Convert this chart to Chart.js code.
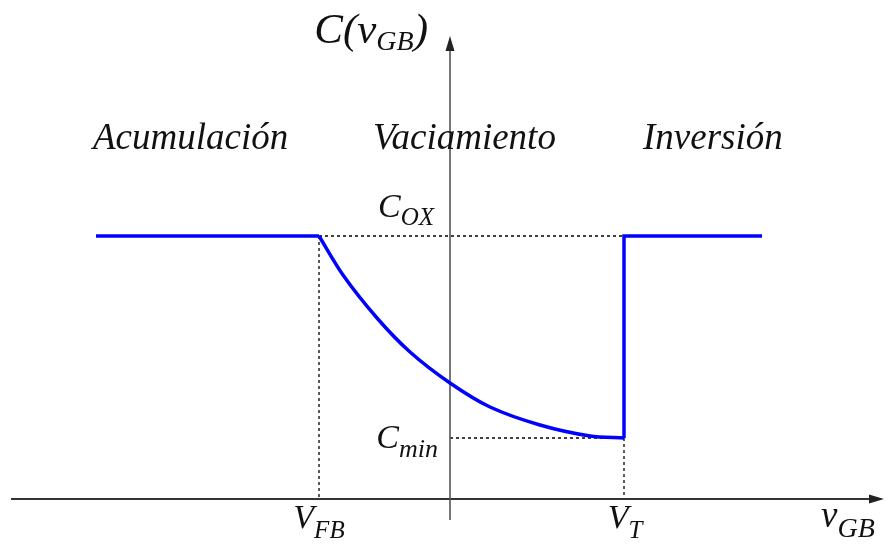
<!DOCTYPE html>
<html>
<head>
<meta charset="utf-8">
<script src="https://cdn.jsdelivr.net/npm/chart.js@4.4.0/dist/chart.umd.min.js"></script>
<style>
  html, body { margin: 0; padding: 0; background: #fff; }
  #wrap { width: 891px; height: 546px; }
</style>
</head>
<body>
<div id="wrap"><canvas id="chart"></canvas></div>
<script>
// characteristic voltages and capacitance levels (1 unit = 100 px)
const vFB = -1.31;
const vT = 1.74;
const cOx = 2.63;
const cMin = 0.61;

// accumulation: flat at Cox up to the flat-band voltage
const accX = [-3.54, vFB];
const accY = [cOx, cOx];

// depletion: C falls from Cox to Cmin between VFB and VT
const depX = [vFB, -1.07, -0.73, -0.40, 0.00, 0.40, 0.90, 1.40, vT];
const depY = [cOx, 2.24, 1.81, 1.47, 1.16, 0.92, 0.74, 0.63, cMin];

// inversion (low frequency): jumps back to Cox at VT
const invX = [vT, vT, 3.12];
const invY = [cMin, cOx, cOx];

const regionLabels = ['Acumulación', 'Vaciamiento', 'Inversión'];
const regionX = [-3.57, -0.77, 1.93];
const regionY = 3.50;

const toPts = (xs, ys) => xs.map((x, i) => ({ x, y: ys[i] }));

const serif = '"Liberation Serif", "DejaVu Serif", serif';

// draw a run of text pieces (main + subscript)
function drawParts(ctx, parts, x, y, align) {
    let total = 0;
    parts.forEach(p => {
        ctx.font = 'italic ' + p.size + 'px ' + serif;
        p.w = ctx.measureText(p.t).width;
        total += p.w;
    });
    let cx = x;
    if (align === 'right') cx = x - total;
    else if (align === 'center') cx = x - total / 2;
    parts.forEach(p => {
        ctx.font = 'italic ' + p.size + 'px ' + serif;
        ctx.fillText(p.t, cx, y + (p.dy || 0));
        cx += p.w;
    });
}

const cvPlugin = {
    id: 'cvPlugin',
    beforeDatasetsDraw(chart) {
        const { ctx, scales: { x, y } } = chart;
        const x0 = x.getPixelForValue(0);
        const y0 = y.getPixelForValue(0);
        const px = v => x.getPixelForValue(v);
        const py = v => y.getPixelForValue(v);

        ctx.save();
        // dashed guides
        ctx.strokeStyle = '#000';
        ctx.lineWidth = 1.3;
        ctx.setLineDash([3, 3]);
        ctx.beginPath();
        ctx.moveTo(px(vFB), py(cOx)); ctx.lineTo(px(vT), py(cOx));
        ctx.moveTo(px(vFB), py(cOx)); ctx.lineTo(px(vFB), y0);
        ctx.moveTo(x0, py(cMin)); ctx.lineTo(px(vT), py(cMin));
        ctx.moveTo(px(vT), py(cMin)); ctx.lineTo(px(vT), y0);
        ctx.stroke();
        ctx.setLineDash([]);

        // axes with arrow heads
        ctx.strokeStyle = '#333';
        ctx.fillStyle = '#222';
        ctx.lineWidth = 2;
        ctx.beginPath();
        ctx.moveTo(11, y0); ctx.lineTo(874, y0);
        ctx.stroke();
        ctx.beginPath();
        ctx.moveTo(884, y0); ctx.lineTo(869, y0 - 4.5); ctx.lineTo(869, y0 + 4.5);
        ctx.closePath(); ctx.fill();

        ctx.strokeStyle = '#555';
        ctx.lineWidth = 1.6;
        ctx.beginPath();
        ctx.moveTo(x0, y0 + 21); ctx.lineTo(x0, 48);
        ctx.stroke();
        ctx.beginPath();
        ctx.moveTo(x0, 36); ctx.lineTo(x0 - 4.5, 51); ctx.lineTo(x0 + 4.5, 51);
        ctx.closePath(); ctx.fill();
        ctx.restore();
    },
    afterDatasetsDraw(chart) {
        const { ctx, scales: { x, y } } = chart;
        const x0 = x.getPixelForValue(0);
        const y0 = y.getPixelForValue(0);
        const px = v => x.getPixelForValue(v);
        const py = v => y.getPixelForValue(v);

        ctx.save();
        ctx.fillStyle = '#111';
        ctx.textBaseline = 'alphabetic';

        regionLabels.forEach((t, i) => {
            drawParts(ctx, [{ t, size: 37 }], px(regionX[i]), py(regionY), 'left');
        });

        drawParts(ctx, [
            { t: 'C(v', size: 43 },
            { t: 'GB', size: 28, dy: 7 },
            { t: ')', size: 43 }
        ], x0 - 22, 43, 'right');

        drawParts(ctx, [
            { t: 'C', size: 34 },
            { t: 'OX', size: 25, dy: 8 }
        ], x0 - 16, py(cOx) - 19, 'right');

        drawParts(ctx, [
            { t: 'C', size: 34 },
            { t: 'min', size: 26, dy: 9 }
        ], x0 - 12, py(cMin) + 10, 'right');

        drawParts(ctx, [
            { t: 'V', size: 34 },
            { t: 'FB', size: 25, dy: 10 }
        ], px(vFB), y0 + 29, 'center');

        drawParts(ctx, [
            { t: 'V', size: 34 },
            { t: 'T', size: 25, dy: 10 }
        ], px(vT) + 1, y0 + 29, 'center');

        drawParts(ctx, [
            { t: 'v', size: 37 },
            { t: 'GB', size: 28, dy: 10 }
        ], 821, y0 + 28, 'left');
        ctx.restore();
    }
};

const lineStyle = {
    borderColor: '#0000ff',
    borderWidth: 3.5,
    pointRadius: 0,
    showLine: true,
    fill: false,
    borderJoinStyle: 'miter',
    borderCapStyle: 'butt'
};

new Chart(document.getElementById('chart'), {
    type: 'scatter',
    data: {
        datasets: [
            { ...lineStyle, data: toPts(accX, accY), tension: 0 },
            { ...lineStyle, data: toPts(depX, depY), tension: 0.3 },
            { ...lineStyle, data: toPts(invX, invY), tension: 0 }
        ]
    },
    options: {
        responsive: true,
        maintainAspectRatio: false,
        animation: false,
        layout: { padding: 0 },
        plugins: { legend: { display: false }, tooltip: { enabled: false } },
        scales: {
            x: { type: 'linear', min: -4.5, max: 4.41, display: false },
            y: { type: 'linear', min: -0.47, max: 4.99, display: false }
        }
    },
    plugins: [cvPlugin]
});
</script>
</body>
</html>
